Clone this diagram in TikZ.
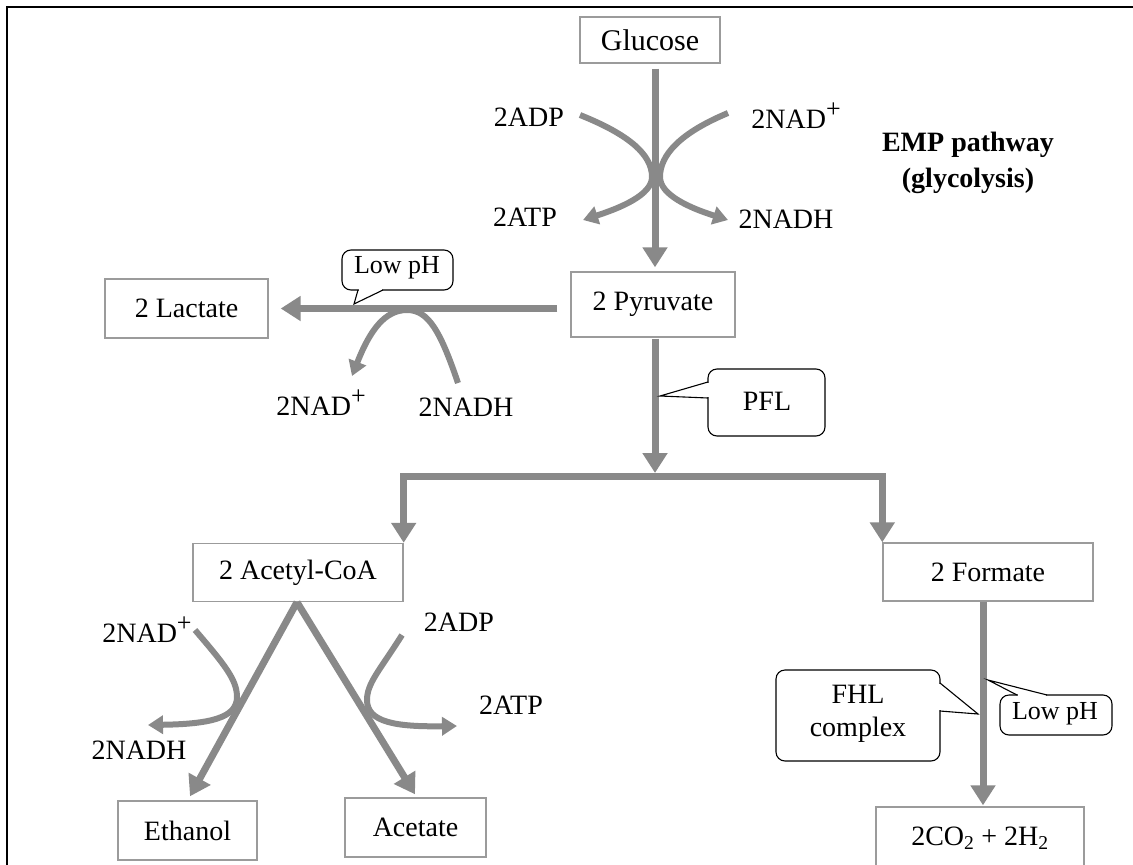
\documentclass[tikz,border=0pt]{standalone}
\usepackage{fontspec}
\setmainfont{Liberation Serif}
\usetikzlibrary{arrows.meta}
\definecolor{ag}{RGB}{137,137,137}
\definecolor{bx}{RGB}{155,155,155}
\newcommand{\plussup}{\smash{\raisebox{11pt}{\fontsize{26}{26}\selectfont +}}}
\begin{document}
\begin{tikzpicture}[x=1pt,y=-1pt,
  every node/.style={font=\fontsize{28}{33}\selectfont, inner sep=0pt},
  small/.style={font=\fontsize{26}{30}\selectfont},
  box/.style={draw=bx, line width=1.4pt, fill=white},
  arr/.style={draw=ag, line width=7pt, -{Triangle[width=24pt,length=20pt]}},
  carr/.style={draw=ag, line width=6pt, -{Triangle[width=18pt,length=15pt]}},
  co/.style={draw=black, line width=1.1pt, rounded corners=9pt, fill=white},
  pt/.style={draw=black, line width=1.1pt, line join=miter},
  cover/.style={fill=white, draw=none}]
\useasboundingbox (0,0) rectangle (1133,865);
% frame
\draw[line width=2pt] (7,865) -- (7,7) -- (1133,7);

% boxes
\node[box, minimum width=140pt, minimum height=46pt, font=\fontsize{30}{34}\selectfont] (glucose) at (650,40) {Glucose};
\node[box, minimum width=164pt, minimum height=65pt] (pyruvate) at (653,304.5) {2 Pyruvate};
\node[box, minimum width=163pt, minimum height=59pt] (lactate) at (186.5,308.5) {2 Lactate};
\node[box, minimum width=210pt, minimum height=58pt] (acetyl) at (298,572.5) {2 Acetyl-CoA};
\node[box, minimum width=210pt, minimum height=58pt] (formate) at (988,572) {2 Formate};
\node[box, minimum width=139pt, minimum height=59pt] (ethanol) at (187.5,830.5) {Ethanol};
\node[box, minimum width=141pt, minimum height=59pt] (acetate) at (415.5,827.5) {Acetate};
\node[box, minimum width=208pt, minimum height=62pt] (co2) at (980,838) {2CO\textsubscript{2} + 2H\textsubscript{2}};

% labels
\node (adp1) at (529,117) {2ADP};
\node (nad1) at (796,119) {2NAD\plussup};
\node (atp1) at (525,217) {2ATP};
\node (nadh1) at (786,219) {2NADH};
\node[align=center, font=\bfseries\fontsize{28}{36}\selectfont] (emp) at (968,163) {EMP pathway\\(glycolysis)};
\node (nad2) at (321,406) {2NAD\plussup};
\node (nadh2) at (466,407) {2NADH};
\node (nad3) at (147,633) {2NAD\plussup};
\node (nadh3) at (139,750) {2NADH};
\node (adp3) at (459,622) {2ADP};
\node (atp3) at (511,705) {2ATP};

% main arrows
\draw[arr] ([xshift=5pt,yshift=-5pt]glucose.south) -- ([xshift=2pt,yshift=4pt]pyruvate.north);
\draw[arr] ([xshift=-13pt]pyruvate.west |- lactate.east) -- ([xshift=12pt]lactate.east);
\coordinate (bar) at (655,476);
\draw[arr] ([xshift=2pt,yshift=-1pt]pyruvate.south) -- ([yshift=3pt]bar);
\draw[draw=ag, line width=7pt, line join=miter, {Triangle[width=24pt,length=20pt]}-{Triangle[width=24pt,length=20pt]}]
  (acetyl.north east) -- (acetyl.north east |- bar) -- (formate.north west |- bar) -- (formate.north west);
\draw[arr] ([xshift=-1pt]acetyl.south) -- ([xshift=2.5pt,yshift=4pt]ethanol.north);
\draw[arr] ([xshift=-1pt]acetyl.south) -- ([xshift=-0.5pt,yshift=3pt]acetate.north);
\draw[arr] ([xshift=-5pt]formate.south) -- ([xshift=3pt,yshift=1pt]co2.north);

% side curves
\draw[carr] (580,115) .. controls (630,135) and (652,155) .. (652,177) .. controls (652,195) and (620,208) .. (583,220);
\draw[carr] (728,113) .. controls (680,133) and (660,155) .. (660,177) .. controls (660,195) and (690,208) .. (728,220);
\draw[carr] (458,383) .. controls (440,330) and (428,310) .. (407,310) .. controls (385,310) and (370,330) .. (352,376);
\draw[carr] (195,630) .. controls (225,665) and (237,680) .. (237,697) .. controls (237,718) and (210,724) .. (148,725);
\draw[carr] (402,635) .. controls (380,670) and (367,683) .. (367,700) .. controls (367,722) and (395,727) .. (457,726);

% callout: Low pH (lactate)
\draw[co] (342,250) rectangle (453,290);
\fill[cover] (358.8,288.4) rectangle (382.2,291.6);
\draw[pt] (358,290) -- (354,304) -- (383,290);
\node[small] (lowph1) at (397,268) {Low pH};

% callout: PFL
\draw[co] (708,369) rectangle (825,436);
\fill[cover] (706.4,382.8) rectangle (709.6,397.2);
\draw[pt] (708,382) -- (660,396) -- (708,398);
\node (pfl) at (767,401) {PFL};

% callout: FHL complex
\draw[co] (776,670) rectangle (940,761);
\fill[cover] (938.4,683.8) rectangle (941.6,710.2);
\draw[pt] (940,683) -- (978,714) -- (940,711);
\node[align=center, font=\fontsize{28}{33}\selectfont] (fhl) at (858,714) {FHL\\complex};

% callout: Low pH (formate)
\draw[co] (1000,695) rectangle (1112,735);
\fill[cover] (1017.8,693.4) rectangle (1046.2,696.6);
\draw[pt] (1017,695) -- (988,680) -- (1047,695);
\node[small] (lowph2) at (1055,714) {Low pH};
\end{tikzpicture}
\end{document}
